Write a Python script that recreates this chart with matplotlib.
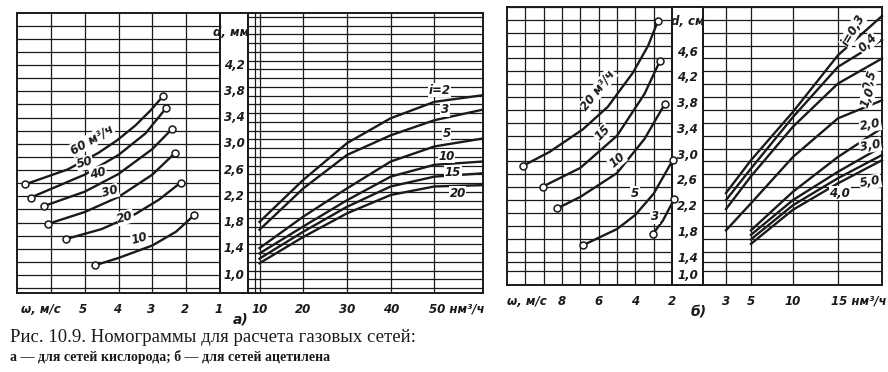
import numpy as np
import matplotlib
matplotlib.use("Agg")
import matplotlib.pyplot as plt

W, H = 888, 372
INK = "#1a1a1a"

# ---------------- panel a) oxygen networks ----------------
# left half: lines of constant flow, velocity w (m/s) vs diameter d
a_flow_names = ["60", "50", "40", "30", "20", "10"]
a_w = [
    [6.77, 5.5, 4.6, 4.05, 3.5, 3.05, 2.68],
    [6.60, 5.0, 4.0, 3.2, 2.60],
    [6.21, 5.0, 4.0, 3.0, 2.43],
    [6.08, 5.0, 4.0, 3.0, 2.33],
    [5.54, 4.5, 3.5, 2.8, 2.16],
    [4.68, 4.0, 3.0, 2.3, 1.77],
]
a_d = [
    [2.38, 2.61, 2.86, 3.05, 3.28, 3.51, 3.73],
    [2.18, 2.53, 2.83, 3.16, 3.54],
    [2.05, 2.27, 2.54, 2.92, 3.22],
    [1.78, 1.96, 2.19, 2.53, 2.86],
    [1.55, 1.70, 1.93, 2.15, 2.41],
    [1.15, 1.26, 1.45, 1.66, 1.91],
]
a_flow_lab_w = [4.79, 5.0, 4.6, 4.25, 3.8, 3.37]
a_flow_lab_d = [3.06, 2.71, 2.55, 2.27, 1.88, 1.56]

# right half: flow Q (nm3/h) vs d for pressure drop i
a_q = [10, 20, 30, 40, 50, 61]
a_i_names = ["i=2", "3", "5", "10", "15", "20"]
a_i_d = [
    [1.81, 2.45, 3.01, 3.39, 3.64, 3.74],
    [1.69, 2.32, 2.83, 3.13, 3.36, 3.52],
    [1.41, 1.89, 2.32, 2.73, 2.96, 3.08],
    [1.33, 1.74, 2.14, 2.50, 2.68, 2.73],
    [1.25, 1.66, 2.04, 2.35, 2.50, 2.55],
    [1.18, 1.58, 1.94, 2.22, 2.35, 2.37],
]
a_i_lab_q = [51.2, 52.4, 52.8, 52.8, 54.2, 55.3]
a_i_lab_d = [3.82, 3.52, 3.16, 2.81, 2.57, 2.25]

a_d_ticks = [4.2, 3.8, 3.4, 3.0, 2.6, 2.2, 1.8, 1.4, 1.0]
a_w_ticks = [5, 4, 3, 2, 1]
a_q_ticks = [10, 20, 30, 40]

# ---------------- panel b) acetylene networks ----------------
b_flow_names = ["20 м³/ч", "15", "10", "5", "3"]
b_w = [
    [10.14, 8.67, 6.86, 5.5, 4.13, 3.3, 2.77],
    [9.05, 7.0, 5.0, 3.5, 2.66],
    [8.27, 7.0, 5.0, 3.5, 2.38],
    [6.85, 5.0, 4.0, 3.0, 1.96],
    [3.05, 2.5, 1.89],
]
b_d = [
    [2.83, 3.05, 3.40, 3.75, 4.28, 4.70, 5.08],
    [2.51, 2.80, 3.30, 3.95, 4.46],
    [2.17, 2.35, 2.72, 3.25, 3.80],
    [1.60, 1.85, 2.07, 2.40, 2.92],
    [1.77, 1.98, 2.31],
]
b_flow_lab_w = [6.04, 5.77, 5.0, 4.02, 2.93]
b_flow_lab_d = [4.01, 3.34, 2.92, 2.41, 2.04]
b_flow_lab_rot = [52, 45, 40, 0, 0]

b_q_low = [3, 5, 10, 15, 19.9]
b_q_high = [5, 10, 15, 19.9]
b_i_names = ["0,3", "0,4", "0,5", "1,0", "2,0", "3,0", "4,0", "5,0"]
b_i_d = [
    [2.41, 2.92, 3.67, 4.55, 5.16],
    [2.30, 2.79, 3.59, 4.37, 4.79],
    [2.16, 2.67, 3.44, 4.11, 4.50],
    [1.83, 2.25, 2.97, 3.57, 3.85],
    [1.83, 2.43, 2.97, 3.42],
    [1.76, 2.30, 2.74, 3.13],
    [1.69, 2.22, 2.64, 3.00],
    [1.62, 2.15, 2.56, 2.92],
]
b_i_lab_q = [16.7, 18.3, 18.6, 18.3, 18.6, 18.6, 15.2, 18.6]
b_i_lab_d = [4.94, 4.74, 4.16, 3.90, 3.47, 3.15, 2.41, 2.58]
b_i_lab_rot = [60, 45, 70, 70, 10, 10, 0, 10]

b_d_ticks = [4.6, 4.2, 3.8, 3.4, 3.0, 2.6, 2.2, 1.8, 1.4, 1.0]
b_w_ticks = [8, 6, 4, 2]
b_q_ticks = [3, 5, 10]


def px_axes(fig, x0, y0, x1, y1):
    ax = fig.add_axes([x0 / W, 1 - y1 / H, (x1 - x0) / W, (y1 - y0) / H])
    ax.set_facecolor("none")
    for s in ax.spines.values():
        s.set_color(INK)
        s.set_linewidth(1.4)
    return ax


def no_ticks(ax):
    ax.minorticks_off()
    ax.set_xticks([])
    ax.set_yticks([])


def piecewise(kx, ky):
    kx = np.asarray(kx, float)
    ky = np.asarray(ky, float)
    return (lambda v: np.interp(v, kx, ky)), (lambda v: np.interp(v, ky, kx))


def hand(ax, x, y, s, **kw):
    kw.setdefault("fontsize", 8.5)
    kw.setdefault("ha", "center")
    kw.setdefault("va", "center")
    kw.setdefault("fontweight", "bold")
    ax.text(x, y, s, style="italic", color=INK, family="DejaVu Sans", **kw)


def bottom_label(ax, x, s, ha="center"):
    ax.text(x, -0.035, s, transform=ax.get_xaxis_transform(), ha=ha, va="top",
            style="italic", fontweight="bold", fontsize=8.5, color=INK, clip_on=False)


grid_kw = dict(color=INK, lw=0.9, zorder=1)
curve_kw = dict(color=INK, lw=1.7, zorder=3, clip_on=False)
dot_kw = dict(marker="o", ms=5, mfc="white", mec=INK, mew=1.1, ls="none", zorder=4, clip_on=False)
lab_box = dict(boxstyle="square,pad=0.05", fc="white", ec="none")

fig = plt.figure(figsize=(W / 100, H / 100), dpi=100)
fig.patch.set_facecolor("white")

# ---------- panel a ----------
a_ylim = (0.726, 4.994)
a_top, a_bot = 13, 293

ax = px_axes(fig, 248, a_top, 483, a_bot)
ax.set_xlim(7.37, 61.1)
ax.set_ylim(*a_ylim)
no_ticks(ax)
ax.axvline(8.97, **grid_kw)
for q in [10, 20, 30, 40, 50]:
    ax.axvline(q, **grid_kw)
for d in 1.0 + 0.4 / 3 * (np.arange(-2, 30) + 0.5):
    ax.axhline(d, **grid_kw)
for d in a_i_d:
    ax.plot(a_q, d, **curve_kw)
for name, x, y in zip(a_i_names, a_i_lab_q, a_i_lab_d):
    hand(ax, x, y, name, bbox=lab_box, zorder=5)
for q in a_q_ticks:
    bottom_label(ax, q, str(q))
bottom_label(ax, 48.8, "50 нм³/ч", ha="left")

ax = px_axes(fig, 220, a_top, 248, a_bot)
ax.set_ylim(*a_ylim)
ax.set_xlim(0, 1)
no_ticks(ax)
for d in a_d_ticks:
    hand(ax, 0.5, d, f"{d:.1f}".replace(".", ","))
hand(ax, 0.4, 4.7, "d, мм")
ax.text(0.75, -0.07, "а)", transform=ax.transAxes, ha="center", va="top",
        style="italic", fontweight="bold", fontsize=10, color=INK, clip_on=False)

ax = px_axes(fig, 17, a_top, 220, a_bot)
ax.set_xlim(7.0, 1.0)
ax.set_ylim(*a_ylim)
no_ticks(ax)
for w in range(2, 7):
    ax.axvline(w, **grid_kw)
for d in np.arange(0.8, 5.0, 0.2):
    ax.axhline(d, **grid_kw)
for w, d in zip(a_w, a_d):
    ax.plot(w, d, **curve_kw)
    ax.plot([w[0], w[-1]], [d[0], d[-1]], **dot_kw)
for name, x, y in zip(a_flow_names, a_flow_lab_w, a_flow_lab_d):
    s = name + " м³/ч" if name == "60" else name
    hand(ax, x, y, s, rotation=30 if name == "60" else 15, bbox=lab_box, zorder=5)
bottom_label(ax, 6.3, "ω, м/с")
for w in a_w_ticks:
    bottom_label(ax, w + 0.05, str(w))

# ---------- panel b ----------
b_top, b_bot = 7, 285
b_ylim = (0.765, 5.30)
yf, yi = piecewise([0, 1.0, 1.4, 10], [-59.5, -17, 0, 553.8])
xf, xi = piecewise([0, 3, 5, 10, 15, 40], [688.5, 726, 751, 793, 838, 1063])

ax = px_axes(fig, 703, b_top, 882, b_bot)
ax.set_xscale("function", functions=(xf, xi))
ax.set_yscale("function", functions=(yf, yi))
ax.set_xlim(1.16, 19.9)
ax.set_ylim(*b_ylim)
no_ticks(ax)
for q in [3, 5, 10, 15]:
    ax.axvline(q, **grid_kw)
for d in list(np.arange(1.5, 5.4, 0.2)) + [1.1, 1.3]:
    ax.axhline(d, **grid_kw)
for d in b_i_d[:4]:
    ax.plot(b_q_low, d, **curve_kw)
for d in b_i_d[4:]:
    ax.plot(b_q_high, d, **curve_kw)
for name, x, y, r in zip(b_i_names, b_i_lab_q, b_i_lab_d, b_i_lab_rot):
    s = "i=" + name if name == "0,3" else name
    hand(ax, x, y, s, rotation=r, bbox=lab_box, zorder=5)
for q in b_q_ticks:
    bottom_label(ax, q, str(q))
bottom_label(ax, 14.2, "15 нм³/ч", ha="left")

ax = px_axes(fig, 672, b_top, 703, b_bot)
ax.set_yscale("function", functions=(yf, yi))
ax.set_ylim(*b_ylim)
ax.set_xlim(0, 1)
no_ticks(ax)
for d in b_d_ticks:
    hand(ax, 0.5, d, f"{d:.1f}".replace(".", ","))
hand(ax, 0.5, 5.08, "d, см")
ax.text(0.85, -0.07, "б)", transform=ax.transAxes, ha="center", va="top",
        style="italic", fontweight="bold", fontsize=10, color=INK, clip_on=False)

ax = px_axes(fig, 507, b_top, 672, b_bot)
ax.set_yscale("function", functions=(yf, yi))
ax.set_xlim(11.0, 2.0)
ax.set_ylim(*b_ylim)
no_ticks(ax)
for w in range(3, 11):
    ax.axvline(w, **grid_kw)
for d in list(np.arange(1.5, 5.4, 0.2)) + [1.1, 1.3]:
    ax.axhline(d, **grid_kw)
for w, d in zip(b_w, b_d):
    ax.plot(w, d, **curve_kw)
    ax.plot([w[0], w[-1]], [d[0], d[-1]], **dot_kw)
for name, x, y, r in zip(b_flow_names, b_flow_lab_w, b_flow_lab_d, b_flow_lab_rot):
    hand(ax, x, y, name, rotation=r, bbox=lab_box, zorder=5)
bottom_label(ax, 9.9, "ω, м/с")
for w in b_w_ticks:
    bottom_label(ax, w, str(w))

# ---------- caption ----------
fig.text(10 / W, 1 - 337 / H, "Рис. 10.9. Номограммы для расчета газовых сетей:",
         family="Liberation Serif", fontsize=13.5, va="center", color=INK)
fig.text(10 / W, 1 - 357 / H, "а — для сетей кислорода; б — для сетей ацетилена",
         family="Liberation Serif", fontweight="bold", fontsize=10, va="center", color=INK)

fig.savefig("out.png", dpi=100, facecolor="white")
